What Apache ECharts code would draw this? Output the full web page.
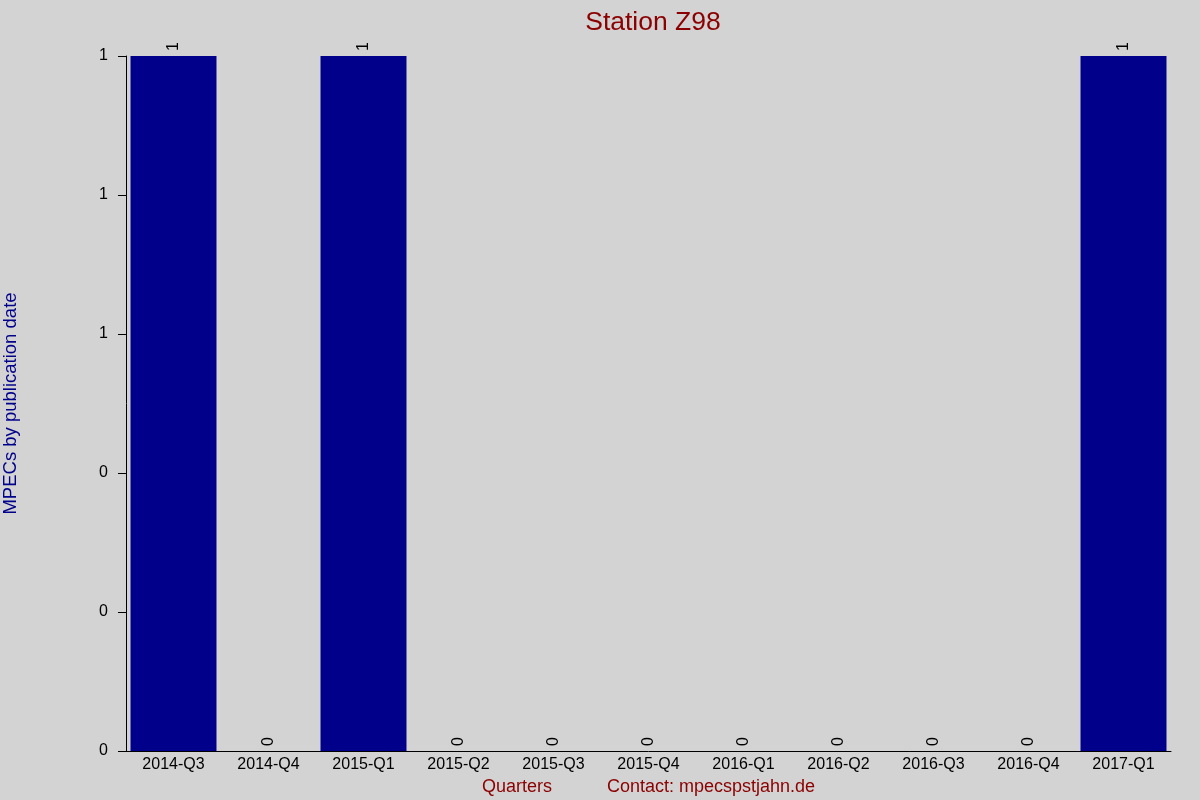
<!DOCTYPE html>
<html><head><meta charset="utf-8">
<script src="https://cdn.jsdelivr.net/npm/echarts@6/dist/echarts.min.js"></script>
<style>html,body{margin:0;padding:0;background:#d3d3d3}#c{width:1200px;height:800px}</style>
</head><body><div id="c"></div>
<script>
const categories = ['2014-Q3','2014-Q4','2015-Q1','2015-Q2','2015-Q3','2015-Q4','2016-Q1','2016-Q2','2016-Q3','2016-Q4','2017-Q1'];
const values = [1,0,1,0,0,0,0,0,0,0,1];
const titleText = 'Station Z98';
const yName = 'MPECs by publication date';
const xName = 'Quarters           Contact: mpecspstjahn.de';

const chart = echarts.init(document.getElementById('c'));
chart.setOption({
  backgroundColor: '#d3d3d3',
  animation: false,
  textStyle: { fontFamily: 'Liberation Sans, Arial, sans-serif' },
  title: {
    text: titleText, left: 648, top: 4, textAlign: 'center',
    textStyle: { color: '#8b0000', fontSize: 26.5, fontWeight: 'normal', fontFamily: 'Liberation Sans, Arial, sans-serif' }
  },
  grid: { left: 126, right: 29, top: 56, bottom: 49, containLabel: false, outerBoundsMode: 'none' },
  xAxis: {
    type: 'category', data: categories,
    name: xName, nameLocation: 'middle', nameGap: 26,
    nameTextStyle: { color: '#8b0000', fontSize: 18 },
    axisLine: { lineStyle: { color: '#000', width: 1 } },
    axisTick: { show: false },
    axisLabel: { color: '#000', fontSize: 16, margin: 6, interval: 0 }
  },
  yAxis: {
    type: 'value', min: 0, max: 1, interval: 0.2,
    name: yName, nameLocation: 'middle', nameGap: 106,
    nameTextStyle: { color: '#00008b', fontSize: 18.5 },
    axisLine: { show: true, lineStyle: { color: '#000', width: 1 } },
    axisTick: { show: true, length: 8, lineStyle: { color: '#000', width: 1 } },
    splitLine: { show: false },
    axisLabel: { color: '#000', fontSize: 16, margin: 18, formatter: v => String(Math.round(v)) }
  },
  series: [{
    type: 'bar', data: values, barCategoryGap: '9.5%',
    itemStyle: { color: '#00008b' },
    label: {
      show: true, position: 'top', rotate: 90, align: 'left', verticalAlign: 'middle',
      distance: 5, color: '#000', fontSize: 16
    }
  }]
});
</script></body></html>
